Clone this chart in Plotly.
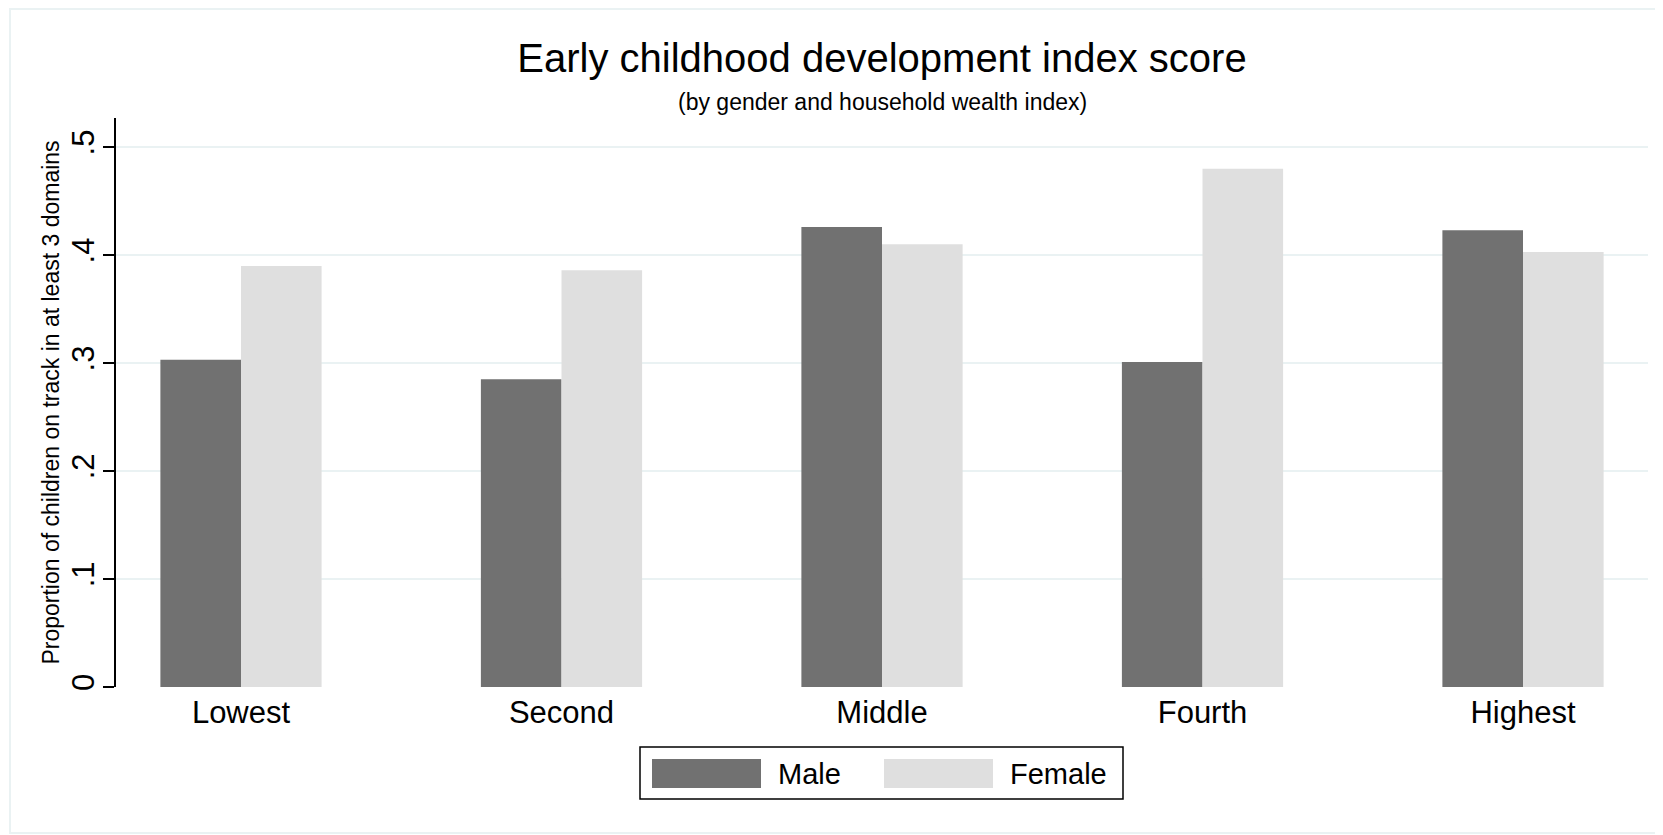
import plotly.graph_objects as go

categories = ["Lowest", "Second", "Middle", "Fourth", "Highest"]
series_names = ["Male", "Female"]
male = [0.303, 0.285, 0.426, 0.301, 0.423]
female = [0.390, 0.386, 0.410, 0.480, 0.403]
y_tickvals = [0, 0.1, 0.2, 0.3, 0.4, 0.5]
y_ticktext = ["0", ".1", ".2", ".3", ".4", ".5"]
title_text = "Early childhood development index score"
subtitle_text = "(by gender and household wealth index)"
y_title = "Proportion of children on track in at least 3 domains"

colors = ["#717171", "#dfdfdf"]
FONT = "Liberation Sans, Arial, Helvetica, sans-serif"
OFF = 8  # page body margin
W, H = 1663 - OFF, 835 - OFF
L = 116 - OFF
T = 118 - OFF
plot_right = 1648 - OFF
plot_bottom = 687 - OFF
R = W - plot_right
B = H - plot_bottom
pw, ph = W - L - R, H - T - B

def px(x):
    return (x - OFF - L) / pw

def py(y):
    return (H - B - (y - OFF)) / ph

fig = go.Figure()
for name, vals, col in zip(series_names, [male, female], colors):
    fig.add_trace(go.Bar(x=categories, y=vals, name=name,
                         marker=dict(color=col, line=dict(width=0)),
                         showlegend=False))

shapes = [
    # outer frame
    dict(type="rect", xref="paper", yref="paper", x0=px(10), x1=px(1700),
         y0=py(833), y1=py(9), line=dict(color="#eaf2f3", width=2), layer="below"),
    # legend box
    dict(type="rect", xref="paper", yref="paper", x0=px(640), x1=px(1123),
         y0=py(799), y1=py(747), line=dict(color="black", width=1.5),
         fillcolor="white"),
]
annotations = [
    dict(text=subtitle_text, xref="paper", yref="paper", x=0.5, y=py(102),
         xanchor="center", yanchor="middle", showarrow=False,
         font=dict(size=23, color="black", family=FONT)),
]
legend_items = [(652, 761, 776), (884, 993, 1008)]
for (sx0, sx1, tx), name, col in zip(legend_items, series_names, colors):
    shapes.append(dict(type="rect", xref="paper", yref="paper", x0=px(sx0), x1=px(sx1),
                       y0=py(788), y1=py(759), line=dict(width=0), fillcolor=col))
    annotations.append(dict(text=name, xref="paper", yref="paper", x=px(tx), y=py(774),
                            xanchor="left", yanchor="middle", showarrow=False,
                            font=dict(size=29, color="black", family=FONT)))

fig.update_layout(
    width=W, height=H,
    margin=dict(l=L, r=R, t=T, b=B),
    paper_bgcolor="white", plot_bgcolor="white",
    font=dict(family=FONT, color="black"),
    barmode="group", bargap=0.497, bargroupgap=0,
    title=dict(text=title_text, xref="paper", x=0.5, xanchor="center",
               yref="container", y=1 - (58 - OFF) / H, yanchor="middle",
               font=dict(size=40, color="black", family=FONT)),
    shapes=shapes, annotations=annotations,
    xaxis=dict(range=[-0.39, 4.39], showgrid=False, zeroline=False, showline=False,
               ticks="", tickfont=dict(size=31, color="black"), ticklabelstandoff=4),
    yaxis=dict(range=[0, 0.527], tickvals=y_tickvals, ticktext=y_ticktext,
               tickangle=-90, ticks="outside", ticklen=11, tickwidth=1.5, tickcolor="black",
               tickfont=dict(size=31, color="black"), ticklabelstandoff=-3,
               showline=True, linecolor="black", linewidth=1.5,
               showgrid=True, gridcolor="#eaf2f3", gridwidth=2, zeroline=False,
               title=dict(text=y_title, font=dict(size=23, color="black"), standoff=0)),
)

fig.write_html("out.html")
